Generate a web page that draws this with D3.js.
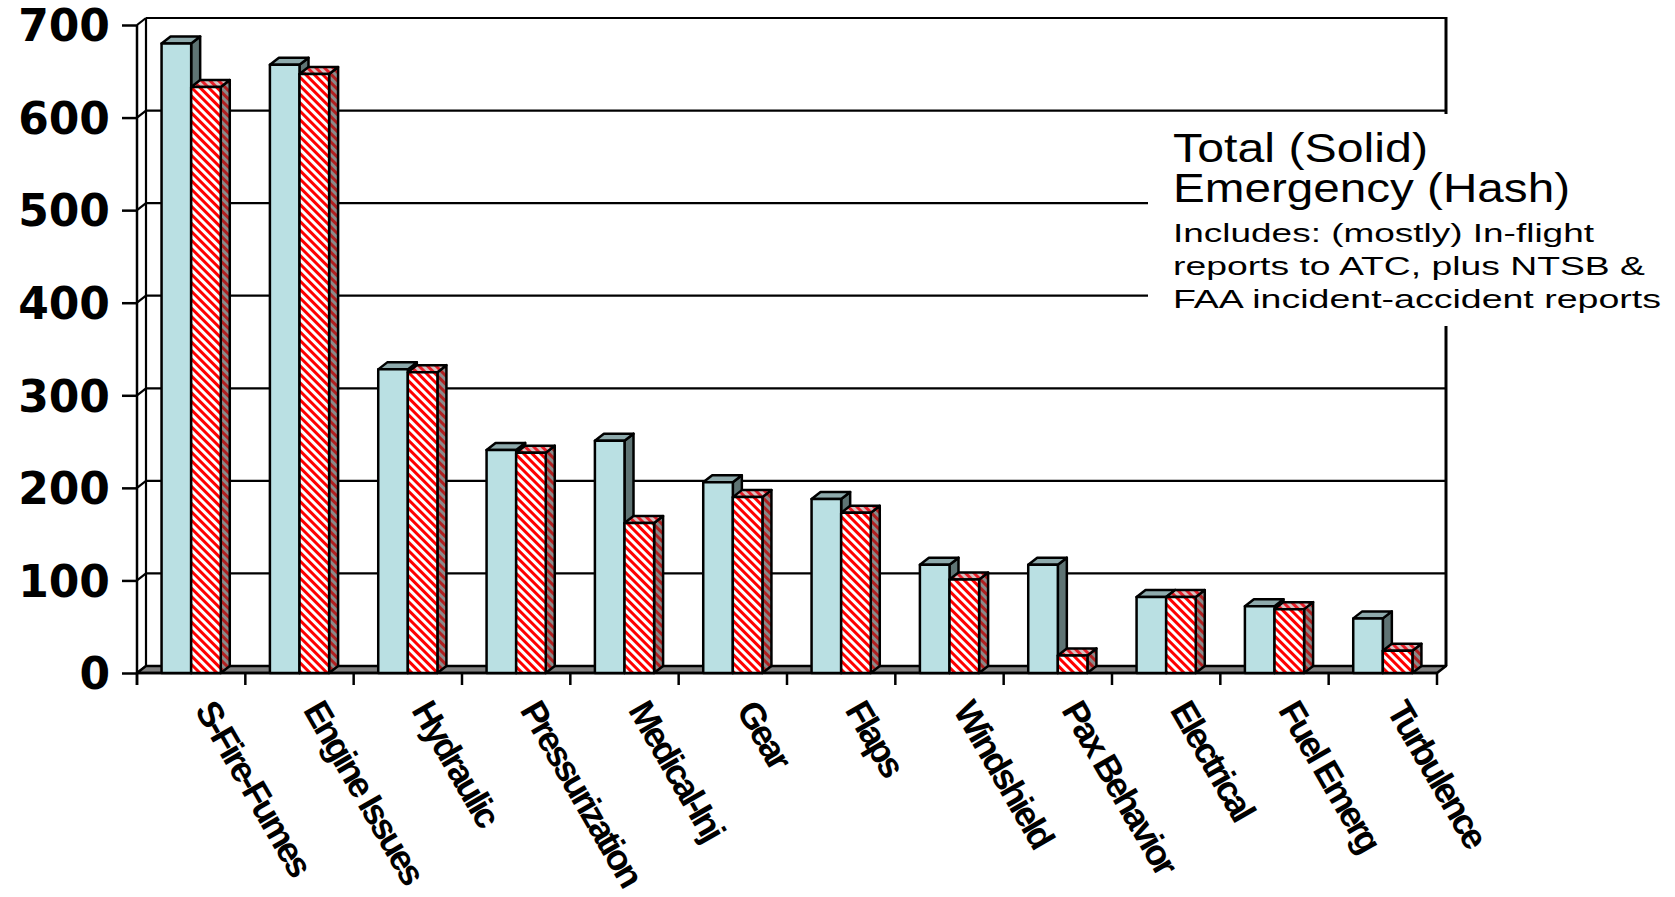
<!DOCTYPE html>
<html>
<head>
<meta charset="utf-8">
<script src="https://cdn.jsdelivr.net/npm/d3@7"></script>
<style>
body { margin: 0; background: #fff; }
svg { display: block; }
</style>
</head>
<body>
<div class="container"></div>
<script>
// chart values
var categories = ['S-Fire-Fumes', 'Engine Issues', 'Hydraulic', 'Pressurization', 'Medical-Inj', 'Gear',
	'Flaps', 'Windshield', 'Pax Behavior', 'Electrical', 'Fuel Emerg', 'Turbulence'];
var totalValues = [680, 657, 328, 241, 251, 206, 188, 117, 117, 82, 72, 59];
var emergencyValues = [633, 647, 325, 238, 162, 190, 173, 101, 19, 82, 69, 24];
var yTicks = [0, 100, 200, 300, 400, 500, 600, 700];
var legendTitles = ['Total (Solid)', 'Emergency (Hash)'];
var legendNotes = ['Includes: (mostly) In-flight', 'reports to ATC, plus NTSB &', 'FAA incident-accident reports'];

var WIDTH = 1675,
	HEIGHT = 897,
	LEFT = 137,
	RIGHT = 1437,
	BASE = 673,
	TOP = 25,
	DX = 9,
	DY = 7;

function translate(x, y) {
	return 'translate(' + x + ',' + y + ')';
}
function pts(a) {
	return a.map(function(p) { return p.join(','); }).join(' ');
}

var svg = d3.select('.container').append('svg')
	.attr('width', WIDTH)
	.attr('height', HEIGHT);

// hatch patterns for the emergency series
var defs = svg.append('defs');
function hatch(id, c1, c2) {
	var p = defs.append('pattern')
		.attr('id', id)
		.attr('patternUnits', 'userSpaceOnUse')
		.attr('width', 6).attr('height', 6)
		.attr('patternTransform', 'rotate(-45)');
	p.append('rect').attr('width', 6).attr('height', 6).attr('fill', c2);
	p.append('rect').attr('width', 3).attr('height', 6).attr('fill', c1);
}
hatch('redFront', '#ff0000', '#ffffff');
hatch('redTop', '#e8202a', '#d9c2c2');
hatch('redSide', '#b02020', '#8a8a8a');

var y = d3.scaleLinear().domain([0, 700]).range([BASE, TOP]);
var yBack = function(v) { return y(v) - DY; };

var x0 = d3.scaleBand().domain(categories).range([LEFT, RIGHT]);
var x1 = d3.scaleBand().domain(['total', 'emerg'])
	.range([0, x0.bandwidth()])
	.paddingInner(0).paddingOuter(0.83);

var series = [
	{key: 'total', values: totalValues, front: '#bae0e3', top: '#8eaaac', side: '#5f7474'},
	{key: 'emerg', values: emergencyValues, front: 'url(#redFront)', top: 'url(#redTop)', side: 'url(#redSide)'}
];

// back wall grid
var grid = svg.append('g').attr('class', 'grid');
grid.selectAll('line.gl')
	.data(yTicks.slice(1)).enter()
	.append('line')
	.attr('x1', LEFT + DX).attr('x2', RIGHT + DX)
	.attr('y1', yBack).attr('y2', yBack)
	.attr('stroke', '#000').attr('stroke-width', 2.2);
grid.selectAll('line.sd')
	.data(yTicks).enter()
	.append('line')
	.attr('x1', LEFT).attr('x2', LEFT + DX)
	.attr('y1', y).attr('y2', yBack)
	.attr('stroke', '#000').attr('stroke-width', 2.2);
grid.append('line')
	.attr('x1', LEFT + DX).attr('x2', LEFT + DX)
	.attr('y1', yBack(700)).attr('y2', yBack(0))
	.attr('stroke', '#000').attr('stroke-width', 2.2);
grid.append('line')
	.attr('x1', RIGHT + DX).attr('x2', RIGHT + DX)
	.attr('y1', yBack(700) - 1).attr('y2', yBack(0))
	.attr('stroke', '#000').attr('stroke-width', 3);

// floor
svg.append('polygon')
	.attr('points', pts([[LEFT, BASE], [LEFT + DX, BASE - DY], [RIGHT + DX, BASE - DY], [RIGHT, BASE]]))
	.attr('fill', '#808080').attr('stroke', '#000').attr('stroke-width', 2.5)
	.attr('stroke-linejoin', 'round');

// y axis
var yAxis = d3.axisLeft(y).tickValues(yTicks).tickSize(15).tickPadding(12);
var yAxisGroup = svg.append('g')
	.attr('transform', translate(LEFT, 0))
	.call(yAxis);
yAxisGroup.select('.domain').remove();
yAxisGroup.selectAll('line').attr('stroke', '#000').attr('stroke-width', 2.5);
yAxisGroup.selectAll('text')
	.attr('fill', '#000')
	.attr('font-family', 'DejaVu Sans')
	.attr('font-weight', 'bold')
	.attr('font-size', 44)
	.attr('dy', '0.36em');
svg.append('line')
	.attr('x1', LEFT).attr('x2', LEFT)
	.attr('y1', y(700)).attr('y2', BASE + 12)
	.attr('stroke', '#000').attr('stroke-width', 2.5);

// x axis ticks at category boundaries
var bounds = categories.map(function(c) { return x0(c); }).concat([RIGHT]);
svg.selectAll('line.xt')
	.data(bounds).enter()
	.append('line')
	.attr('x1', function(d) { return d; }).attr('x2', function(d) { return d; })
	.attr('y1', BASE).attr('y2', BASE + 12)
	.attr('stroke', '#000').attr('stroke-width', 2.5);
svg.append('line')
	.attr('x1', LEFT).attr('x2', RIGHT)
	.attr('y1', BASE).attr('y2', BASE)
	.attr('stroke', '#000').attr('stroke-width', 2.5);

// 3d bars
var bars = svg.append('g').attr('class', 'bars');
categories.forEach(function(c, i) {
	series.forEach(function(s) {
		var bx = x0(c) + x1(s.key),
			bw = x1.bandwidth(),
			by = y(s.values[i]);
		var g = bars.append('g')
			.attr('stroke', '#000').attr('stroke-width', 2.5).attr('stroke-linejoin', 'round');
		g.append('polygon')
			.attr('points', pts([[bx + bw, by], [bx + bw + DX, by - DY], [bx + bw + DX, BASE - DY], [bx + bw, BASE]]))
			.attr('fill', s.side);
		g.append('polygon')
			.attr('points', pts([[bx, by], [bx + DX, by - DY], [bx + bw + DX, by - DY], [bx + bw, by]]))
			.attr('fill', s.top);
		g.append('rect')
			.attr('x', bx).attr('y', by)
			.attr('width', bw).attr('height', BASE - by)
			.attr('fill', s.front);
	});
});

// category labels, slanted
svg.selectAll('text.cat')
	.data(categories).enter()
	.append('text')
	.attr('class', 'cat')
	.attr('transform', function(d) { return translate(x0(d) + x0.bandwidth() / 2 + 3, 710) + ' rotate(60)'; })
	.attr('font-family', 'Liberation Sans, Arial, sans-serif')
	.attr('font-weight', 'bold')
	.attr('font-size', 36)
	.attr('letter-spacing', -3)
	.attr('fill', '#000')
	.text(function(d) { return d; });

// legend
var legend = svg.append('g').attr('class', 'legend');
legend.append('rect')
	.attr('x', 1148).attr('y', 114)
	.attr('width', WIDTH - 1148).attr('height', 212)
	.attr('fill', '#fff');
var titleW = [255, 397];
legend.selectAll('text.t')
	.data(legendTitles).enter()
	.append('text')
	.attr('x', 1173)
	.attr('y', function(d, i) { return 162 + i * 40; })
	.attr('font-family', 'Liberation Sans, Arial, sans-serif')
	.attr('font-size', 40)
	.attr('textLength', function(d, i) { return titleW[i]; })
	.attr('lengthAdjust', 'spacingAndGlyphs')
	.text(function(d) { return d; });
var noteW = [421, 472, 488];
legend.selectAll('text.n')
	.data(legendNotes).enter()
	.append('text')
	.attr('x', 1173)
	.attr('y', function(d, i) { return 242 + i * 33; })
	.attr('font-family', 'Liberation Sans, Arial, sans-serif')
	.attr('font-size', 26)
	.attr('textLength', function(d, i) { return noteW[i]; })
	.attr('lengthAdjust', 'spacingAndGlyphs')
	.text(function(d) { return d; });
</script>
</body>
</html>
